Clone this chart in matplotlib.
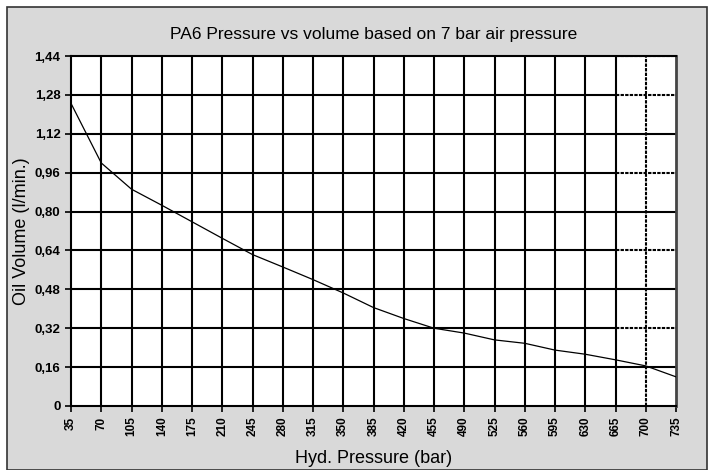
import matplotlib.pyplot as plt
from matplotlib.patches import Rectangle

# Data
pressure = [35, 70, 105, 140, 175, 210, 245, 280, 315, 350, 385,
            420, 455, 490, 525, 560, 595, 630, 665, 700, 735]
volume = [1.245, 1.00, 0.892, 0.826, 0.758, 0.69, 0.623, 0.572, 0.52, 0.465, 0.405,
          0.36, 0.32, 0.30, 0.272, 0.258, 0.23, 0.213, 0.19, 0.165, 0.12]
y_ticks = [0, 0.16, 0.32, 0.48, 0.64, 0.80, 0.96, 1.12, 1.28, 1.44]
y_labels = ['0', '0,16', '0,32', '0,48', '0,64', '0,80', '0,96', '1,12', '1,28', '1,44']

plt.rcParams['font.family'] = ['Liberation Sans Narrow', 'Liberation Sans', 'DejaVu Sans']

fig = plt.figure(figsize=(7.1, 4.7), dpi=100, facecolor='white')
# grey panel with dark border
fig.patches.append(Rectangle((7 / 710, 0), 700 / 710, 463 / 470, transform=fig.transFigure,
                             facecolor='#d9d9d9', edgecolor='#333333', linewidth=1.2, zorder=-5))

ax = fig.add_axes([71 / 710, 1 - 406 / 470, 605 / 710, 350 / 470])
ax.set_zorder(5)
ax.set_facecolor('white')
ax.set_xlim(35, 735)
ax.set_ylim(0, 1.44)

dash = (0, (1.6, 0.6))
# grid (drawn by hand so the last two columns get the dashed look)
for yv in y_ticks[1:-1]:
    ax.plot([35, 665], [yv, yv], color='black', lw=1.5, zorder=1)
    ls = dash if yv in (0.32, 0.64, 0.96, 1.28) else '-'
    ax.plot([665, 735], [yv, yv], color='black', lw=1.5, ls=ls, zorder=1)
ax.plot([665, 735], [1.44, 1.44], color='black', lw=1.5, ls=dash, zorder=1)
for xv in pressure[1:-1]:
    ls = dash if xv == 700 else '-'
    ax.plot([xv, xv], [0, 1.44], color='black', lw=1.5, ls=ls, zorder=1)

ax.plot(pressure, volume, color='black', lw=0.9, zorder=3)

for s in ['left', 'bottom', 'top']:
    ax.spines[s].set_color('black')
    ax.spines[s].set_linewidth(1.5)
ax.spines['right'].set_color('#444444')
ax.spines['right'].set_linewidth(2)

ax.set_xticks(pressure)
ax.set_xticklabels([str(p) for p in pressure], rotation=90, fontsize=8.5, fontweight='bold')
ax.set_yticks(y_ticks)
ax.set_yticklabels(y_labels, fontsize=9.5, fontweight='bold')
ax.tick_params(axis='both', direction='out', length=4, width=1.2, color='black')

ax.set_xlabel('Hyd. Pressure (bar)', fontsize=13, labelpad=10)
ax.set_ylabel('Oil Volume (l/min.)', fontsize=13, labelpad=3)
ax.set_title('PA6 Pressure vs volume based on 7 bar air pressure', fontsize=12.5, pad=12)

fig.savefig('out.png', dpi=100)
